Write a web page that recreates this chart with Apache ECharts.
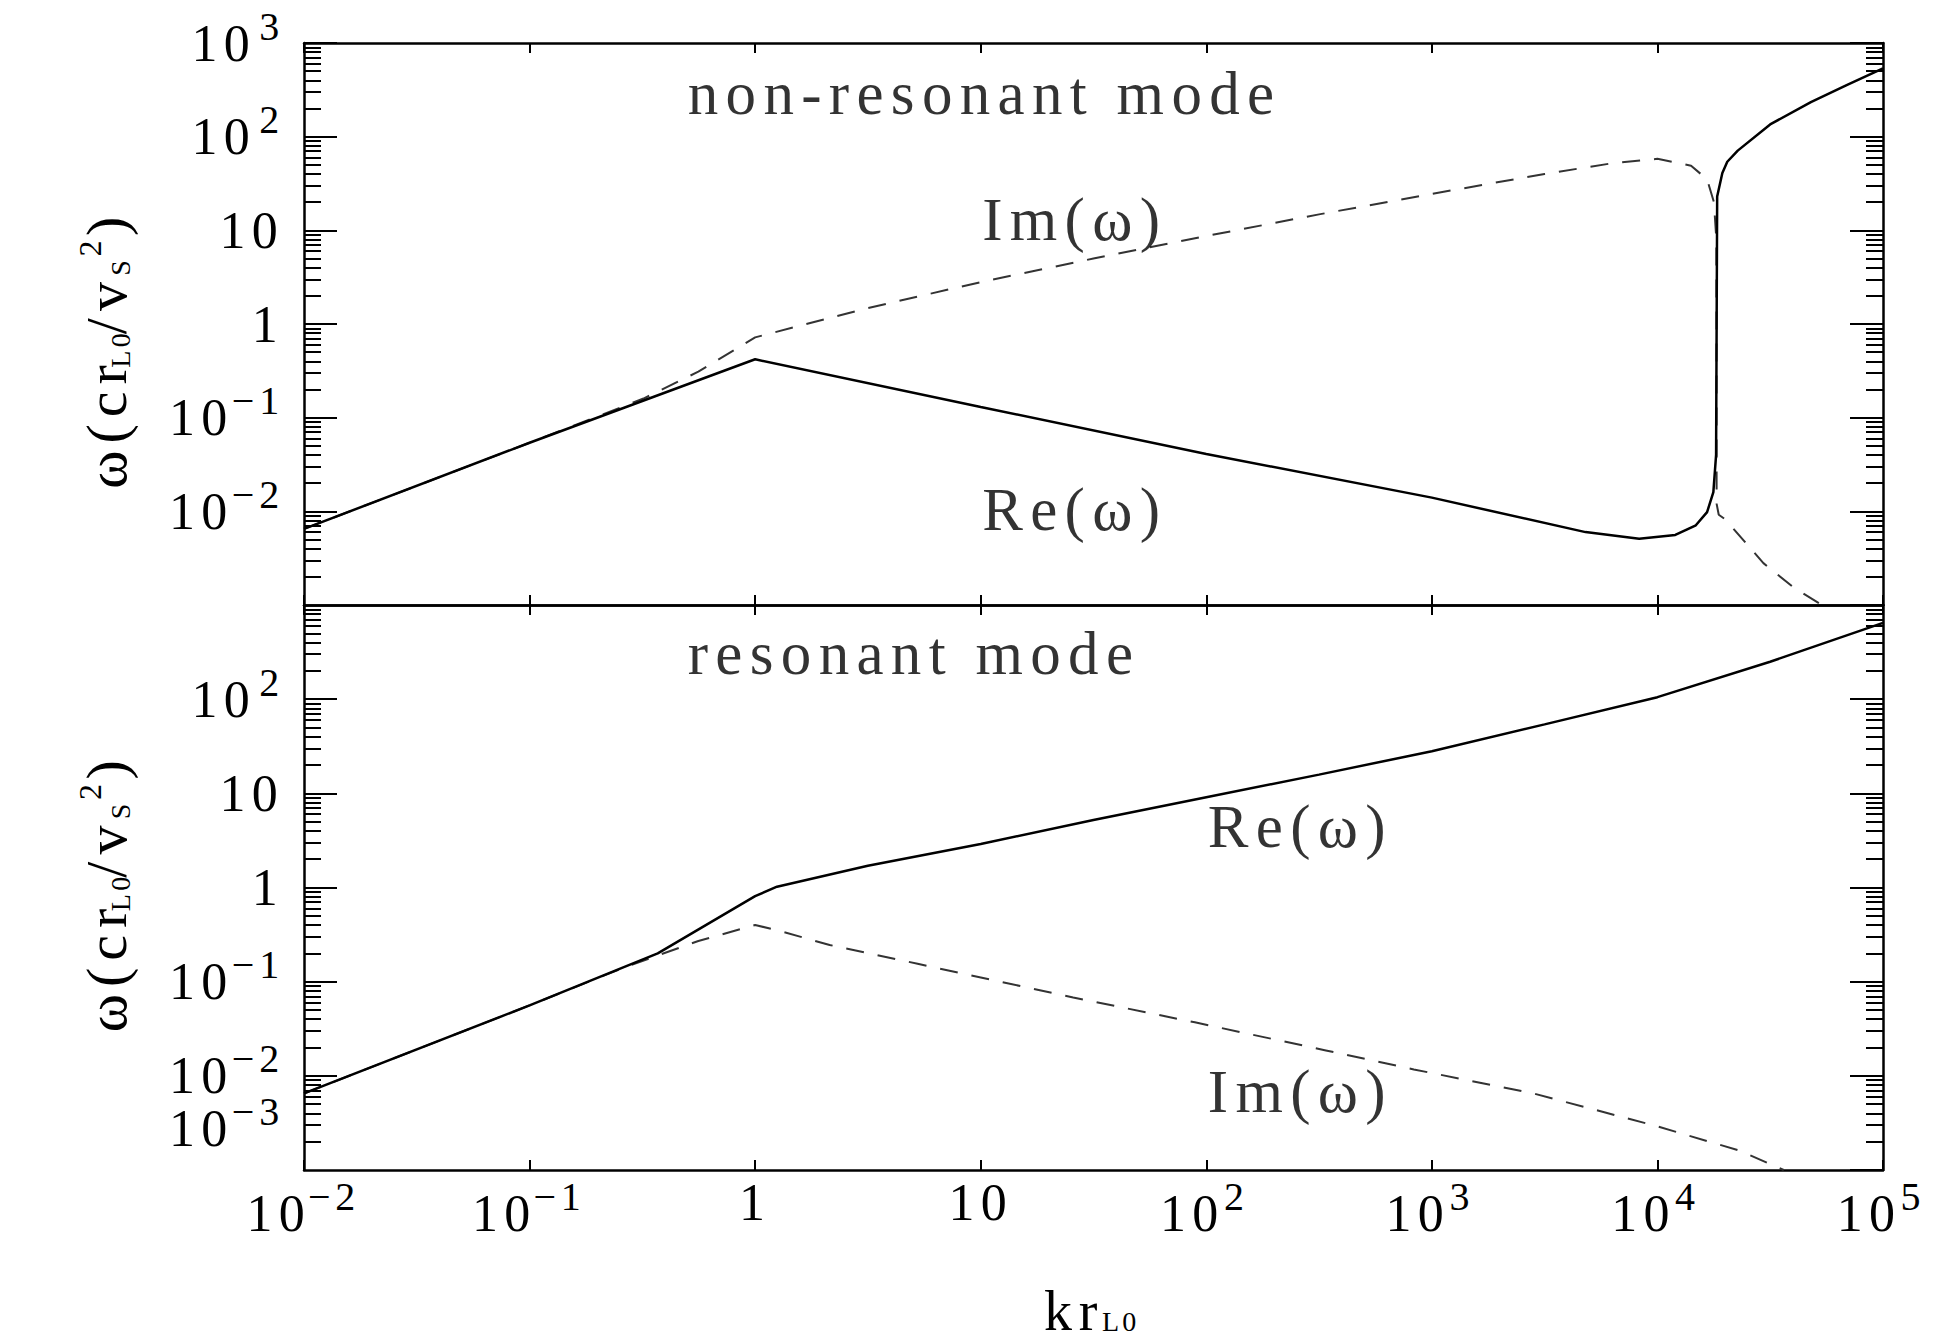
<!DOCTYPE html>
<html>
<head>
<meta charset="utf-8">
<script src="https://cdn.jsdelivr.net/npm/echarts@6/dist/echarts.min.js"></script>
<style>
  html, body { margin: 0; padding: 0; background: #fff; }
  #chart { width: 1936px; height: 1342px; }
  /* wide Hershey-like spacing of the original figure */
  #chart text { letter-spacing: 0.12em; }
</style>
</head>
<body>
<div id="chart"></div>
<script>
// non-resonant mode, Re(omega)
const kTopRe = [0.01, 0.1, 1, 10, 100, 1000, 4800, 8300, 12000, 14800, 16600, 17700, 18200, 18300, 18400, 19400, 20400, 22700, 31600, 47900, 69000, 100000];
const wTopRe = [0.0065, 0.054, 0.42, 0.13, 0.041, 0.014, 0.006, 0.0051, 0.0056, 0.0071, 0.0098, 0.016, 0.04, 1, 23, 41, 54, 71, 135, 234, 355, 537];
// non-resonant mode, Im(omega)
const kTopIm = [0.01, 0.1, 0.32, 0.56, 1, 3.16, 10, 31.6, 100, 316, 1000, 3160, 6300, 10000, 14100, 16600, 17800, 18250, 18300, 18700, 20000, 29500, 40700, 53700];
const wTopIm = [0.0065, 0.054, 0.16, 0.31, 0.72, 1.48, 2.8, 5.0, 8.7, 14.8, 24.5, 40, 52, 58, 49, 35, 20, 8, 0.012, 0.0092, 0.0082, 0.0028, 0.0015, 0.001];
// resonant mode, Re(omega)
const kBotRe = [0.01, 0.1, 0.37, 1, 1.25, 3.16, 10, 31.6, 100, 316, 1000, 3160, 10000, 31600, 100000];
const wBotRe = [0.0065, 0.056, 0.2, 0.81, 1.02, 1.7, 2.9, 5.2, 9.1, 15.8, 28, 54, 105, 250, 646];
// resonant mode, Im(omega)
const kBotIm = [0.01, 0.1, 0.25, 0.37, 0.56, 1, 1.32, 2.14, 5.25, 11.7, 25.7, 89, 339, 832, 2820, 9770, 22900, 36300];
const wBotIm = [0.0065, 0.056, 0.135, 0.19, 0.27, 0.40, 0.34, 0.245, 0.155, 0.102, 0.068, 0.037, 0.0186, 0.0117, 0.0065, 0.00295, 0.00162, 0.001];

// in-plot annotations (left edge of each text)
const annoTopText = ['non-resonant mode', 'Im(ω)', 'Re(ω)'];
const annoTopK = [0.5, 10.1, 10.1];
const annoTopW = [292, 13.2, 0.0104];
const annoBotText = ['resonant mode', 'Re(ω)', 'Im(ω)'];
const annoBotK = [0.5, 101, 101];
const annoBotW = [302, 4.4, 0.0069];

// lowest y label of the bottom panel, drawn lifted above its tick
const bottomLowLabel = [0.001];

// minor ticks of the log y axes (2..9 per decade)
const minorTicks = [];
for (let e = -3; e < 3; e++) {
  for (let m = 2; m <= 9; m++) minorTicks.push(Number((m * Math.pow(10, e)).toPrecision(3)));
}

const FONT = 'Liberation Serif';
const INK = '#000';

const chart = echarts.init(document.getElementById('chart'), null, { renderer: 'svg' });

function powerLabel(shiftLowest) {
  return function (v) {
    const e = Math.round(Math.log10(v));
    const low = shiftLowest && e === -3;
    const b = low ? 'bl' : 'b';
    const s = low ? 'sl' : 's';
    if (e === 0) return '{' + b + '|1}';
    if (e === 1) return '{' + b + '|10}';
    return '{' + b + '|10}{' + s + '|' + (e < 0 ? '−' + (-e) : e) + '}';
  };
}

const labelRich = {
  b: { fontFamily: FONT, fontSize: 52, color: INK },
  s: { fontFamily: FONT, fontSize: 40, color: INK, padding: [0, 0, 34, 8] },
  bl: { fontFamily: FONT, fontSize: 52, color: INK, padding: [0, 0, 84, 0] },
  sl: { fontFamily: FONT, fontSize: 40, color: INK, padding: [0, 0, 118, 8] }
};

// the top title sits a little lower in the original, hence the padded end token
const yNameTop = '{w|ω(cr}{sub|L0}{w2|/v}{sub|S}{sup|2}{wEnd|)}';
const yNameBot = '{w|ω(cr}{sub|L0}{w2|/v}{sub|S}{sup|2}{w2|)}';
const nameRich = {
  w: { fontFamily: FONT, fontSize: 58, color: INK },
  w2: { fontFamily: FONT, fontSize: 58, color: INK, padding: [0, 0, 0, 6] },
  wEnd: { fontFamily: FONT, fontSize: 58, color: INK, padding: [0, 40, 0, 6] },
  sub: { fontFamily: FONT, fontSize: 28, color: INK, padding: [28, 0, 0, 8] },
  sup: { fontFamily: FONT, fontSize: 32, color: INK, padding: [0, 0, 32, 4] },
  n: { fontFamily: FONT, fontSize: 56, color: INK, lineHeight: 50 },
  xs: { fontFamily: FONT, fontSize: 28, color: INK, lineHeight: 30, padding: [20, 0, 0, 8] }
};

const frameLine = { show: true, onZero: false, lineStyle: { color: INK, width: 2.5 } };
const tickStyle = { color: INK, width: 2 };

function yAxes(gridIndex, isTop) {
  const base = { type: 'log', logBase: 10, gridIndex: gridIndex, min: 0.001, max: 1000, splitNumber: 6, splitLine: { show: false } };
  return [
    Object.assign({}, base, {
      position: 'left',
      axisLine: frameLine,
      axisTick: { inside: true, length: 33, lineStyle: tickStyle },
      axisLabel: {
        margin: 20,
        formatter: powerLabel(false),
        rich: labelRich,
        showMinLabel: false,
        showMaxLabel: isTop
      },
      name: isTop ? yNameTop : yNameBot,
      nameLocation: 'middle',
      nameRotate: 90,
      nameGap: 166,
      nameTextStyle: { rich: nameRich }
    }),
    Object.assign({}, base, {
      position: 'left',
      axisLine: { show: false },
      axisTick: { inside: true, length: 17, lineStyle: tickStyle, customValues: minorTicks },
      axisLabel: isTop
        ? { show: false }
        : { show: true, margin: 20, customValues: bottomLowLabel, formatter: powerLabel(true), rich: labelRich }
    }),
    Object.assign({}, base, {
      position: 'right',
      axisLine: frameLine,
      axisTick: { inside: true, length: 33, lineStyle: tickStyle },
      axisLabel: { show: false }
    }),
    Object.assign({}, base, {
      position: 'right',
      axisLine: { show: false },
      axisTick: { inside: true, length: 17, lineStyle: tickStyle, customValues: minorTicks },
      axisLabel: { show: false }
    })
  ];
}

function xAxis(gridIndex, position, withLabels) {
  const ax = {
    type: 'log', logBase: 10, gridIndex: gridIndex, position: position,
    min: 0.01, max: 100000, splitNumber: 7,
    splitLine: { show: false },
    axisLine: frameLine,
    axisTick: { inside: true, length: 10, lineStyle: tickStyle },
    axisLabel: { show: false }
  };
  if (withLabels) {
    ax.axisLabel = { show: true, margin: 6, formatter: powerLabel(false), rich: labelRich };
    ax.name = '{n|kr}{xs|L0}';
    ax.nameLocation = 'middle';
    ax.nameGap = 116;
    ax.nameTextStyle = { rich: nameRich };
  }
  return ax;
}

function curve(xi, yi, ks, ws, dashed) {
  return {
    type: 'line',
    xAxisIndex: xi,
    yAxisIndex: yi,
    data: ks.map((k, i) => [k, ws[i]]),
    showSymbol: false,
    symbol: 'none',
    lineStyle: dashed
      ? { color: '#333', width: 2, type: [18, 14] }
      : { color: INK, width: 2.5 },
    z: dashed ? 2 : 3
  };
}

function notes(xi, yi, texts, ks, ws) {
  return {
    type: 'scatter',
    xAxisIndex: xi,
    yAxisIndex: yi,
    symbolSize: 1,
    itemStyle: { color: 'rgba(0,0,0,0)' },
    silent: true,
    data: texts.map((t, i) => ({ name: t, value: [ks[i], ws[i]] })),
    label: { show: true, position: 'right', distance: 0, formatter: '{b}', fontFamily: FONT, fontSize: 61, color: INK }
  };
}

chart.setOption({
  animation: false,
  backgroundColor: '#fff',
  grid: [
    { left: 304, top: 43, width: 1579, height: 562, outerBoundsMode: 'none' },
    { left: 304, top: 605, width: 1579, height: 565, outerBoundsMode: 'none' }
  ],
  xAxis: [
    xAxis(0, 'bottom', false),
    xAxis(0, 'top', false),
    xAxis(1, 'bottom', true),
    xAxis(1, 'top', false)
  ],
  yAxis: yAxes(0, true).concat(yAxes(1, false)),
  series: [
    curve(0, 0, kTopIm, wTopIm, true),
    curve(0, 0, kTopRe, wTopRe, false),
    curve(2, 4, kBotIm, wBotIm, true),
    curve(2, 4, kBotRe, wBotRe, false),
    notes(0, 0, annoTopText, annoTopK, annoTopW),
    notes(2, 4, annoBotText, annoBotK, annoBotW)
  ]
});
</script>
</body>
</html>
